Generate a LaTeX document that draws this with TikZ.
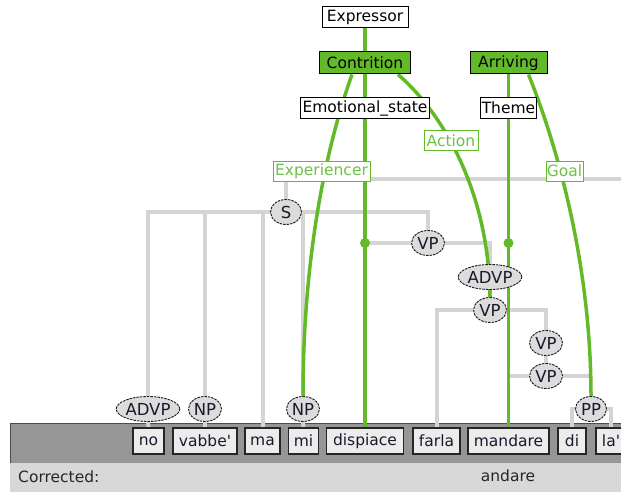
\documentclass[tikz,border=0pt]{standalone}
\usepackage{fontspec}
\setmainfont{DejaVu Sans}[Ligatures=TeXOff]
\usetikzlibrary{shapes.geometric}
\definecolor{gline}{RGB}{99,186,41}
\definecolor{gtext}{RGB}{110,192,70}
\definecolor{grayline}{RGB}{212,212,212}
\definecolor{ellfill}{RGB}{220,220,220}
\definecolor{wordfill}{RGB}{236,236,236}
\definecolor{darkband}{RGB}{150,150,150}
\definecolor{lightband}{RGB}{216,216,216}
\definecolor{inktext}{RGB}{25,25,45}
\pgfdeclarelayer{bg}
\pgfsetlayers{bg,main}
\begin{document}
\begin{tikzpicture}[x=1pt,y=-1pt,
 every node/.style={font=\fontsize{15.5}{18}\selectfont, inner sep=0pt},
 frame/.style={draw=black, line width=1pt, fill=white, minimum width=#1, minimum height=21pt},
 frameg/.style={frame=#1, fill=gline, minimum height=22pt},
 role/.style={draw=gline, line width=1pt, fill=white, text=gtext, minimum width=#1, minimum height=20pt},
 cat/.style={ellipse, draw=black!90, dash pattern=on 2.5pt off 1pt, line width=0.9pt, fill=ellfill, minimum width=#1, minimum height=25pt, text=inktext, font=\fontsize{16.5}{18}\selectfont},
 cat/.default=33pt,
 word/.style={draw=black!85, line width=1.2pt, fill=wordfill, minimum width=#1, minimum height=26pt, text=inktext},
 gl/.style={draw=grayline, line width=4pt},
 gn/.style={draw=gline, line width=3.5pt},
]
\useasboundingbox (0,0) rectangle (621,492);

% frames
\node[frame=86pt] (expr) at (365,17.5) {Expressor};
\node[frameg=91pt] (contr) at (365,63) {Contrition};
\node[frame=129pt] (emo) at (365,108) {Emotional\_state};
\node[frameg=77pt] (arr) at (508.5,63) {Arriving};
\node[frame=56pt] (theme) at (508.5,108) {Theme};
\node[role=97pt] (exp) at (321.5,171) {Experiencer};
\node[role=54pt] (act) at (451,140.5) {Action};
\node[role=37pt] (goal) at (564.5,171) {Goal};

% syntax nodes
\node[cat=31pt] (S) at (286,212) {S};
\node[cat] (vp1) at (428,243) {VP};
\node[cat=56pt] (advp2) at (490,277) {ADVP};
\node[cat] (vp2) at (490,310) {VP};
\node[cat] (vp3) at (546,343) {VP};
\node[cat] (vp4) at (546,376) {VP};
\node[cat=56pt] (advp1) at (148,409) {ADVP};
\node[cat] (np1) at (205,409) {NP};
\node[cat] (np2) at (303,409) {NP};
\node[cat=31pt] (pp) at (591,409) {PP};

% words
\node[word=31pt] (w-no) at (148.5,441) {no};
\node[word=64pt] (w-vab) at (205,441) {vabbe'};
\node[word=35pt] (w-ma) at (262.5,441) {ma};
\node[word=30pt] (w-mi) at (303.5,441) {mi};
\node[word=77pt] (w-dis) at (365,441) {dispiace};
\node[word=47pt] (w-far) at (436.5,441) {farla};
\node[word=81pt] (w-man) at (508.5,441) {mandare};
\node[word=28pt] (w-di) at (572,441) {di};
\node[word=30pt] (w-la) at (611,441) {la'};

\node[anchor=west, text=black!85] (corr) at (18,477) {Corrected:};
\node[text=black!85] (fix) at (508,476) {andare};

\coordinate (sroot) at (286,179);
\coordinate (sroot-r) at (640,179);

\fill[gline] (w-dis |- vp1) circle (5pt);
\fill[gline] (w-man |- vp1) circle (5pt);

\begin{pgfonlayer}{bg}
\fill[darkband] (10,423) rectangle (640,463);
\fill[lightband] (10,463) rectangle (640,492);
\draw[black!70, line width=1pt] (10,463) -- (10,423) -- (640,423);
% gray tree
\draw[gl] (S) -- (sroot) -- (sroot-r);
\draw[gl] (advp1) -- (advp1 |- S) -- (S -| vp1) -- (vp1);
\draw[gl] (np1) -- (np1 |- S);
\draw[gl] (w-ma) -- (w-ma |- S);
\draw[gl] (np2) -- (np2 |- S);
\draw[gl] (advp1) -- (w-no);
\draw[gl] (np1) -- (w-vab);
\draw[gl] (np2) -- (w-mi);
\draw[gl] (w-dis |- vp1) -- (vp1) -- (vp1 -| advp2) -- (advp2);
\draw[gl] (advp2) -- (vp2);
\draw[gl] (w-far) -- (w-far |- vp2) -- (vp2) -- (vp2 -| vp3) -- (vp3) -- (vp4);
\draw[gl] (w-man |- vp4) -- (vp4) -- (vp4 -| pp);
\draw[gl] (w-di) -- (w-di |- pp) -- (pp -| w-la) -- (w-la);
% green frame links
\draw[gn] (expr) -- (contr);
\draw[gn] (contr) -- (w-dis);
\draw[gn] (arr) -- (w-man);
\draw[gn] ([xshift=-13pt]contr.south) .. controls (325,150) and (303,260) .. (np2.north);
\draw[gn] ([xshift=33pt]contr.south) .. controls (445,115) and (489,195) .. (vp2.north);
\draw[gn] ([xshift=20pt]arr.south) .. controls (555,140) and (591,260) .. (pp.north);
\end{pgfonlayer}
\end{tikzpicture}
\end{document}
